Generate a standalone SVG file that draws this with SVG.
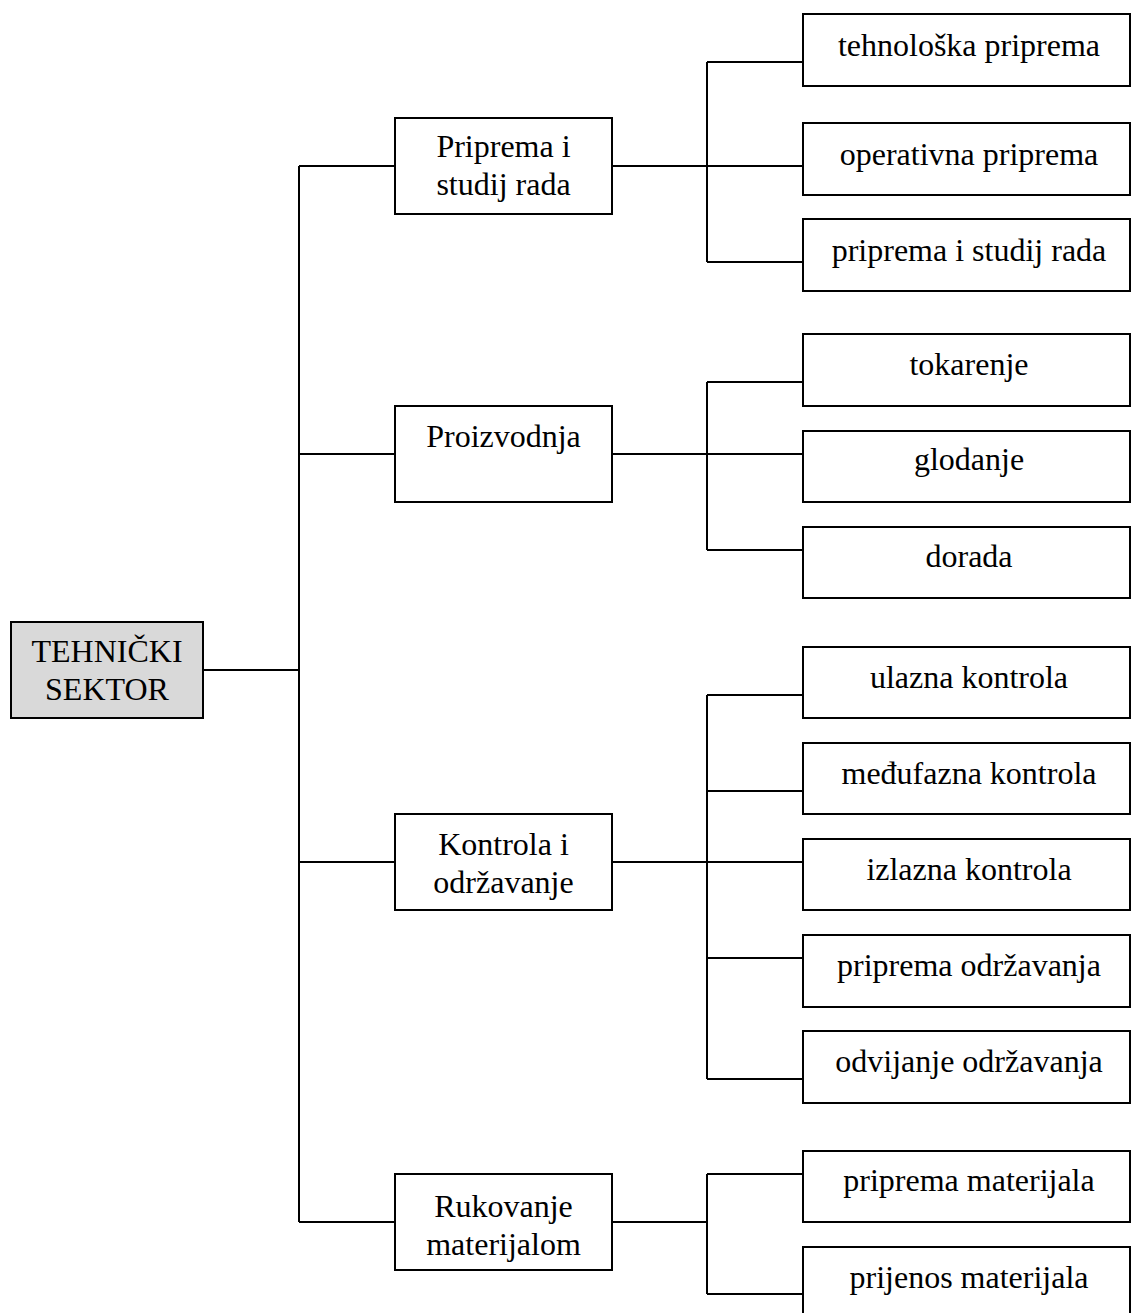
<svg xmlns="http://www.w3.org/2000/svg" width="1131" height="1313" viewBox="0 0 1131 1313">
<style>
.box{fill:#ffffff;stroke:#000;stroke-width:2}
.root{fill:#d9d9d9;stroke:#000;stroke-width:2}
.c{fill:none;stroke:#000;stroke-width:2}
text{font-family:"Liberation Serif","Times New Roman",serif;font-size:32px;fill:#000;text-anchor:middle}
</style>
<rect width="1131" height="1313" fill="#fff"/>
<g id="connectors">
<path class="c" d="M203 670H299M299 166V1222M299 166H395M299 454H395M299 862H395M299 1222H395"/>
<path class="c" d="M612 166H803M707 62V262M707 62H803M707 262H803"/>
<path class="c" d="M612 454H803M707 382V550M707 382H803M707 550H803"/>
<path class="c" d="M612 862H803M707 695V1079M707 695H803M707 791H803M707 958H803M707 1079H803"/>
<path class="c" d="M612 1222H707M707 1174V1294M707 1174H803M707 1294H803"/>
</g>
<g id="n-root"><rect class="root" x="11" y="622" width="192" height="96"/><text x="107" y="662">TEHNIČKI</text><text x="107" y="700">SEKTOR</text></g>
<g id="n-priprema"><rect class="box" x="395" y="118" width="217" height="96"/><text x="503.5" y="157">Priprema i</text><text x="503.5" y="195">studij rada</text></g>
<g id="n-proizvodnja"><rect class="box" x="395" y="406" width="217" height="96"/><text x="503.5" y="447">Proizvodnja</text></g>
<g id="n-kontrola"><rect class="box" x="395" y="814" width="217" height="96"/><text x="503.5" y="855">Kontrola i</text><text x="503.5" y="893">održavanje</text></g>
<g id="n-rukovanje"><rect class="box" x="395" y="1174" width="217" height="96"/><text x="503.5" y="1217">Rukovanje</text><text x="503.5" y="1255">materijalom</text></g>
<g id="n-tehnoloska"><rect class="box" x="803" y="14" width="327" height="72"/><text x="969" y="56">tehnološka priprema</text></g>
<g id="n-operativna"><rect class="box" x="803" y="123" width="327" height="72"/><text x="969" y="165">operativna priprema</text></g>
<g id="n-pripremastudij"><rect class="box" x="803" y="219" width="327" height="72"/><text x="969" y="261">priprema i studij rada</text></g>
<g id="n-tokarenje"><rect class="box" x="803" y="334" width="327" height="72"/><text x="969" y="375">tokarenje</text></g>
<g id="n-glodanje"><rect class="box" x="803" y="431" width="327" height="71"/><text x="969" y="470">glodanje</text></g>
<g id="n-dorada"><rect class="box" x="803" y="527" width="327" height="71"/><text x="969" y="567">dorada</text></g>
<g id="n-ulazna"><rect class="box" x="803" y="647" width="327" height="71"/><text x="969" y="688">ulazna kontrola</text></g>
<g id="n-medufazna"><rect class="box" x="803" y="743" width="327" height="71"/><text x="969" y="784">međufazna kontrola</text></g>
<g id="n-izlazna"><rect class="box" x="803" y="839" width="327" height="71"/><text x="969" y="880">izlazna kontrola</text></g>
<g id="n-pripremaodr"><rect class="box" x="803" y="935" width="327" height="72"/><text x="969" y="976">priprema održavanja</text></g>
<g id="n-odvijanje"><rect class="box" x="803" y="1031" width="327" height="72"/><text x="969" y="1072">odvijanje održavanja</text></g>
<g id="n-pripremamat"><rect class="box" x="803" y="1151" width="327" height="71"/><text x="969" y="1191">priprema materijala</text></g>
<g id="n-prijenos"><rect class="box" x="803" y="1247" width="327" height="72"/><text x="969" y="1288">prijenos materijala</text></g>
</svg>
